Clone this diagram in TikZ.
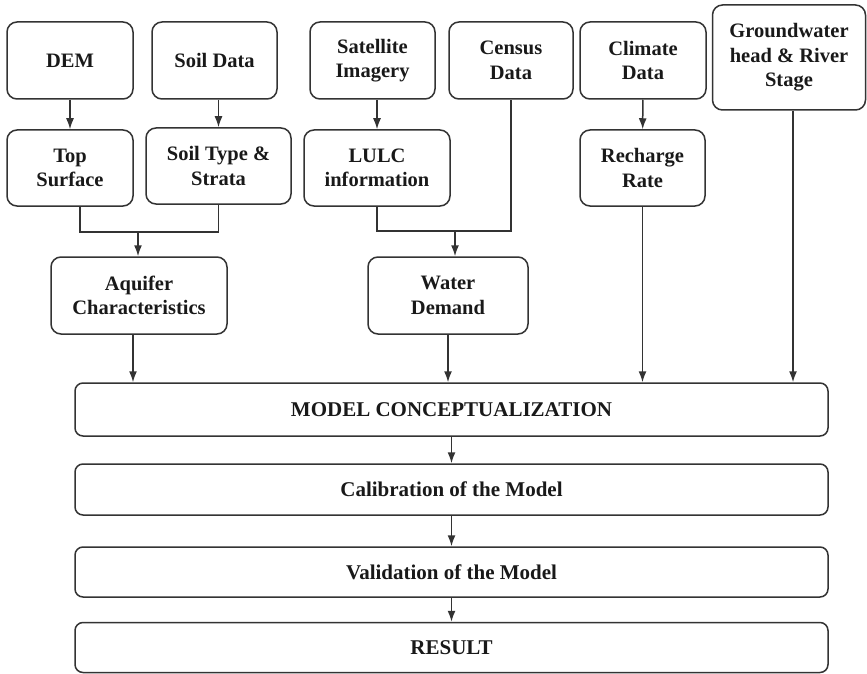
\documentclass[tikz,border=0pt]{standalone}
\usepackage{fontspec}
\setmainfont{Liberation Serif}
\usepackage{tikz}
\usetikzlibrary{arrows.meta}

\begin{document}
\begin{tikzpicture}[x=1pt, y=-1pt,
  box/.style={draw=black!80, line width=1.5pt, rounded corners=10pt, align=center, inner sep=0pt,
    font=\fontsize{20.5}{24.5}\selectfont\bfseries, text=black!90},
  wide/.style={box, rounded corners=8pt, minimum width=753pt,
    font=\fontsize{21}{25}\selectfont\bfseries},
  con/.style={line width=1.5pt, draw=black!80, >={Latex[length=11pt,width=8pt]}}]
\useasboundingbox (0,0) rectangle (867,674);

\node[box, minimum width=126pt, minimum height=77pt] (dem) at (70,60.5) {DEM};
\node[box, minimum width=125pt, minimum height=77pt] (soil) at (214.5,60.5) {Soil Data};
\node[box, minimum width=125pt, minimum height=77pt] (sat) at (372.5,60.5) {Satellite\\Imagery};
\node[box, minimum width=124pt, minimum height=77pt] (census) at (511,60.5) {Census\\Data};
\node[box, minimum width=126pt, minimum height=77pt] (climate) at (643,60.5) {Climate\\Data};
\node[box, minimum width=153pt, minimum height=105pt] (gw) at (789,57.5) {Groundwater\\head \& River\\Stage};

\node[box, minimum width=126pt, minimum height=76pt] (top) at (70,168) {Top\\Surface};
\node[box, minimum width=145pt, minimum height=76pt] (strata) at (218.5,166) {Soil Type \&\\Strata};
\node[box, minimum width=146pt, minimum height=76pt] (lulc) at (377,168) {LULC\\information};
\node[box, minimum width=125pt, minimum height=76pt] (recharge) at (642.5,168) {Recharge\\Rate};

\node[box, minimum width=176pt, minimum height=77pt] (aquifer) at (139,295.5) {Aquifer\\Characteristics};
\node[box, minimum width=160pt, minimum height=77pt] (demand) at (448,295.5) {Water\\Demand};

\node[wide, minimum height=53pt] (model) at (451.5,409.5) {MODEL CONCEPTUALIZATION};
\node[wide, minimum height=51pt] (calib) at (451.5,489.5) {Calibration of the Model};
\node[wide, minimum height=50pt] (valid) at (451.5,572) {Validation of the Model};
\node[wide, minimum height=50pt] (result) at (451.5,647.5) {RESULT};

\coordinate (j1) at (138,232);
\coordinate (j2) at (455,231);

\draw[con, ->] (dem) -- (top);
\draw[con, ->] (soil.south -| strata) -- (strata);
\draw[con, ->] (sat.south -| lulc) -- (lulc);
\draw[con, ->] (climate) -- (recharge);

\draw[con] ([xshift=10pt]top.south) |- (j1) -| (strata.south);
\draw[con, ->] (j1) -- (j1 |- aquifer.north);
\draw[con] (lulc.south) |- (j2) -| (census.south);
\draw[con, ->] (j2) -- (j2 |- demand.north);

\draw[con, ->] ([xshift=-6pt]aquifer.south) -- ([xshift=-6pt]aquifer.south |- model.north);
\draw[con, ->] (demand.south) -- (demand.south |- model.north);
\draw[con, ->] (recharge.south) -- (recharge.south |- model.north);
\draw[con, ->] ([xshift=4pt]gw.south) -- ([xshift=4pt]gw.south |- model.north);

\draw[con, ->] (model) -- (calib);
\draw[con, ->] (calib) -- (valid);
\draw[con, ->] (valid) -- (result);
\end{tikzpicture}
\end{document}
